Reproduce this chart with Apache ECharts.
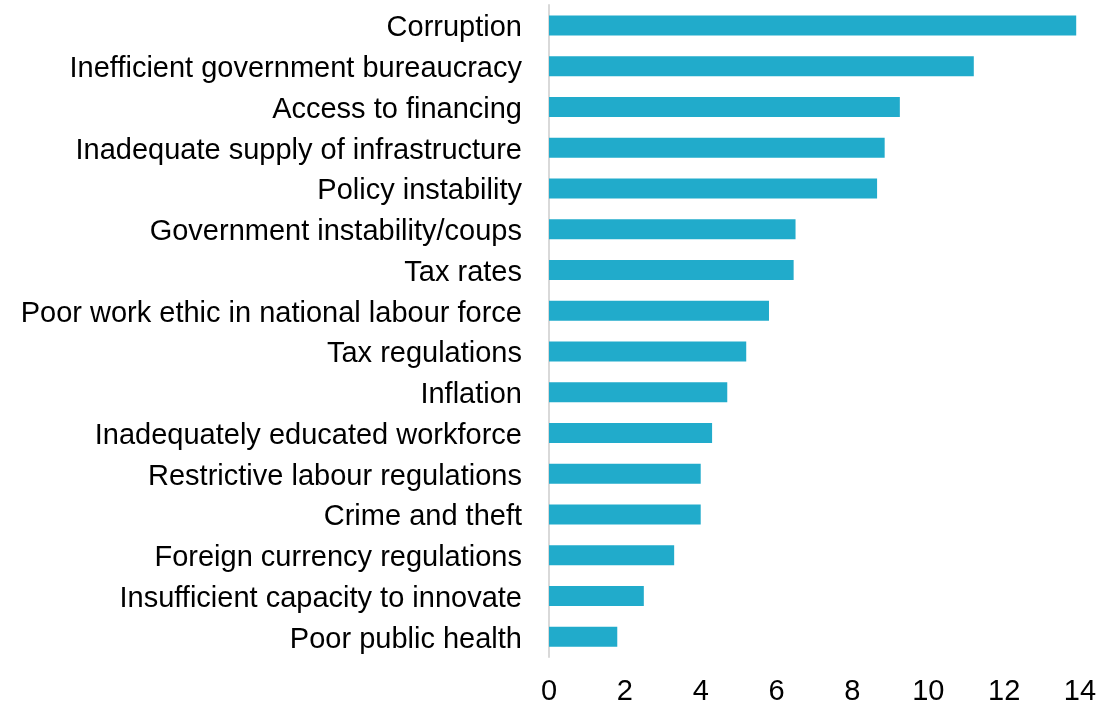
<!DOCTYPE html>
<html>
<head>
<meta charset="utf-8">
<script src="https://cdn.jsdelivr.net/npm/echarts@6/dist/echarts.min.js"></script>
<style>
  html, body { margin: 0; padding: 0; background: #ffffff; }
  #chart { width: 1101px; height: 703px; }
</style>
</head>
<body>
<div id="chart"></div>
<script>
// Most problematic factors for doing business (% of responses)
const categories = [
  'Corruption',
  'Inefficient government bureaucracy',
  'Access to financing',
  'Inadequate supply of infrastructure',
  'Policy instability',
  'Government instability/coups',
  'Tax rates',
  'Poor work ethic in national labour force',
  'Tax regulations',
  'Inflation',
  'Inadequately educated workforce',
  'Restrictive labour regulations',
  'Crime and theft',
  'Foreign currency regulations',
  'Insufficient capacity to innovate',
  'Poor public health'
];
const values = [13.9, 11.2, 9.25, 8.85, 8.65, 6.5, 6.45, 5.8, 5.2, 4.7, 4.3, 4.0, 4.0, 3.3, 2.5, 1.8];
const xTicks = { min: 0, max: 14, interval: 2 };

const labelFont = 'Liberation Sans, Arial, sans-serif';

const chart = echarts.init(document.getElementById('chart'), null, { renderer: 'canvas' });
chart.setOption({
  animation: false,
  grid: { left: 549, right: 21, top: 5, bottom: 46, containLabel: false, outerBoundsMode: 'none' },
  xAxis: {
    type: 'value',
    min: xTicks.min,
    max: xTicks.max,
    interval: xTicks.interval,
    axisLine: { show: false },
    axisTick: { show: false },
    splitLine: { show: false },
    axisLabel: {
      color: '#000000',
      fontFamily: labelFont,
      fontSize: 29,
      margin: 20
    }
  },
  yAxis: {
    type: 'category',
    inverse: true,
    data: categories,
    axisLine: { show: true, lineStyle: { color: '#d9d9d9', width: 2 } },
    axisTick: { show: false },
    axisLabel: {
      color: '#000000',
      fontFamily: labelFont,
      fontSize: 29,
      margin: 27,
      formatter: (v) => '{t|' + v + '}',
      rich: {
        t: { color: '#000000', fontFamily: labelFont, fontSize: 29, padding: [6, 0, 0, 0] }
      }
    }
  },
  series: [{
    type: 'bar',
    data: values,
    barWidth: 20,
    itemStyle: { color: '#21abcb' }
  }]
});
</script>
</body>
</html>
